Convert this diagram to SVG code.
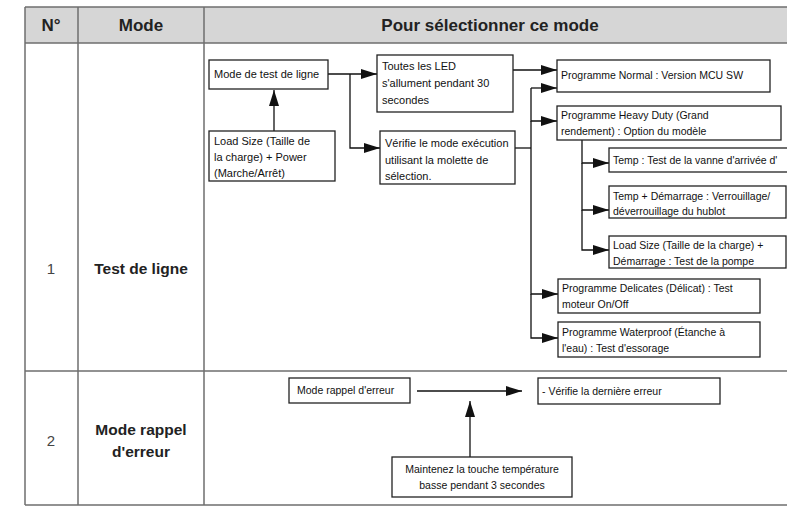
<svg xmlns="http://www.w3.org/2000/svg" width="787" height="509" viewBox="0 0 787 509">
<defs>
<marker id="ahb" markerWidth="16" markerHeight="10" refX="16" refY="5" orient="auto" markerUnits="userSpaceOnUse">
<path d="M0,0 L16,5 L0,10 Z" fill="#111"/>
</marker>
<style>
.tb{fill:none;stroke:#6e6e6e;stroke-width:1.5}
.hd{font-family:"Liberation Sans",Arial,sans-serif;font-size:17px;font-weight:bold;fill:#222;text-anchor:middle}
.num{font-family:"Liberation Sans",Arial,sans-serif;font-size:15px;fill:#444;text-anchor:middle}
.md{font-family:"Liberation Sans",Arial,sans-serif;font-size:15.5px;font-weight:bold;fill:#222;text-anchor:middle}
.bx{fill:#fff;stroke:#222;stroke-width:1.3}
.t{font-family:"Liberation Sans",Arial,sans-serif;font-size:11px;fill:#111}
.tr{font-family:"Liberation Sans",Arial,sans-serif;font-size:10.5px;fill:#111}
.ts{font-family:"Liberation Sans",Arial,sans-serif;font-size:10.5px;fill:#111}
.c{fill:none;stroke:#111;stroke-width:1.3}
</style>
</defs>
<rect width="787" height="509" fill="#fff"/>
<g id="table">
<rect x="25" y="7" width="765" height="36" fill="#d6d6d6"/>
<line class="tb" x1="25" y1="7" x2="787" y2="7"/>
<line class="tb" x1="25" y1="43" x2="787" y2="43"/>
<line class="tb" x1="25" y1="371" x2="787" y2="371"/>
<line class="tb" x1="25" y1="505" x2="787" y2="505"/>
<line class="tb" x1="25" y1="7" x2="25" y2="505"/>
<line class="tb" x1="78" y1="7" x2="78" y2="505"/>
<line class="tb" x1="204" y1="7" x2="204" y2="505"/>
<text class="hd" x="51" y="31">N°</text>
<text class="hd" x="141" y="31">Mode</text>
<text class="hd" x="490" y="31">Pour sélectionner ce mode</text>
<text class="num" x="51" y="274">1</text>
<text class="md" x="141" y="274">Test de ligne</text>
<text class="num" x="51" y="446">2</text>
<text class="md" x="141" y="435">Mode rappel</text>
<text class="md" x="141" y="457">d'erreur</text>
</g>
<g id="connectors">
<path class="c" d="M274,131 V90" marker-end="url(#ahb)"/>
<path class="c" d="M328,74 H377" marker-end="url(#ahb)"/>
<path class="c" d="M350,74 V148 H380" marker-end="url(#ahb)"/>
<path class="c" d="M513,70 H557" marker-end="url(#ahb)"/>
<path class="c" d="M515,148 H531"/>
<path class="c" d="M531,88 H557" marker-end="url(#ahb)"/>
<path class="c" d="M531,88 V121 H557" marker-end="url(#ahb)"/>
<path class="c" d="M531,121 V294 H558" marker-end="url(#ahb)"/>
<path class="c" d="M531,294 V338 H558" marker-end="url(#ahb)"/>
<path class="c" d="M582,140 V163 H609" marker-end="url(#ahb)"/>
<path class="c" d="M582,163 V210 H609" marker-end="url(#ahb)"/>
<path class="c" d="M582,210 V250 H609" marker-end="url(#ahb)"/>
<path class="c" d="M417,391 H522" marker-end="url(#ahb)"/>
<path class="c" d="M470,457 V401" marker-end="url(#ahb)"/>
</g>
<g id="n-mode-test">
<rect class="bx" x="209" y="60" width="119" height="29"/>
<text class="t" x="214" y="78">Mode de test de ligne</text>
</g>
<g id="n-loadsize-power">
<rect class="bx" x="209" y="131" width="126" height="50"/>
<text class="t" x="214" y="145">Load Size (Taille de</text>
<text class="t" x="214" y="161">la charge) + Power</text>
<text class="t" x="214" y="177">(Marche/Arrêt)</text>
</g>
<g id="n-led">
<rect class="bx" x="377" y="55" width="136" height="57"/>
<text class="t" x="382" y="70">Toutes les LED</text>
<text class="t" x="382" y="87">s'allument pendant 30</text>
<text class="t" x="382" y="104">secondes</text>
</g>
<g id="n-verifie">
<rect class="bx" x="380" y="131" width="135" height="53"/>
<text class="t" x="385" y="147">Vérifie le mode exécution</text>
<text class="t" x="385" y="164">utilisant la molette de</text>
<text class="t" x="385" y="180">sélection.</text>
</g>
<g id="n-normal">
<rect class="bx" x="557" y="60" width="213" height="32"/>
<text class="tr" x="561" y="79">Programme Normal : Version MCU SW</text>
</g>
<g id="n-heavy">
<rect class="bx" x="557" y="106" width="224" height="34"/>
<text class="tr" x="561" y="119">Programme Heavy Duty (Grand</text>
<text class="tr" x="561" y="135">rendement) : Option du modèle</text>
</g>
<g id="n-temp">
<rect class="bx" x="609" y="148" width="180" height="24"/>
<text class="tr" x="613" y="164">Temp : Test de la vanne d'arrivée d'</text>
</g>
<g id="n-temp-demarrage">
<rect class="bx" x="609" y="186" width="177" height="32"/>
<text class="tr" x="613" y="200">Temp + Démarrage : Verrouillage/</text>
<text class="tr" x="613" y="215">déverrouillage du hublot</text>
</g>
<g id="n-loadsize-demarrage">
<rect class="bx" x="609" y="236" width="177" height="32"/>
<text class="tr" x="613" y="249">Load Size (Taille de la charge) +</text>
<text class="tr" x="613" y="265">Démarrage : Test de la pompe</text>
</g>
<g id="n-delicates">
<rect class="bx" x="558" y="279" width="202" height="34"/>
<text class="tr" x="562" y="292">Programme Delicates (Délicat) : Test</text>
<text class="tr" x="562" y="308">moteur On/Off</text>
</g>
<g id="n-waterproof">
<rect class="bx" x="558" y="322" width="202" height="35"/>
<text class="tr" x="562" y="336">Programme Waterproof (Étanche à</text>
<text class="tr" x="562" y="352">l'eau) : Test d'essorage</text>
</g>
<g id="n-rappel">
<rect class="bx" x="289" y="378" width="121" height="25"/>
<text class="ts" x="297" y="394">Mode rappel d'erreur</text>
</g>
<g id="n-derniere">
<rect class="bx" x="538" y="378" width="182" height="26"/>
<text class="ts" x="542" y="395">- Vérifie la dernière erreur</text>
</g>
<g id="n-maintenez">
<rect class="bx" x="392" y="457" width="180" height="40"/>
<text class="ts" x="482" y="473" text-anchor="middle">Maintenez la touche température</text>
<text class="ts" x="482" y="489" text-anchor="middle">basse pendant 3 secondes</text>
</g>
</svg>
